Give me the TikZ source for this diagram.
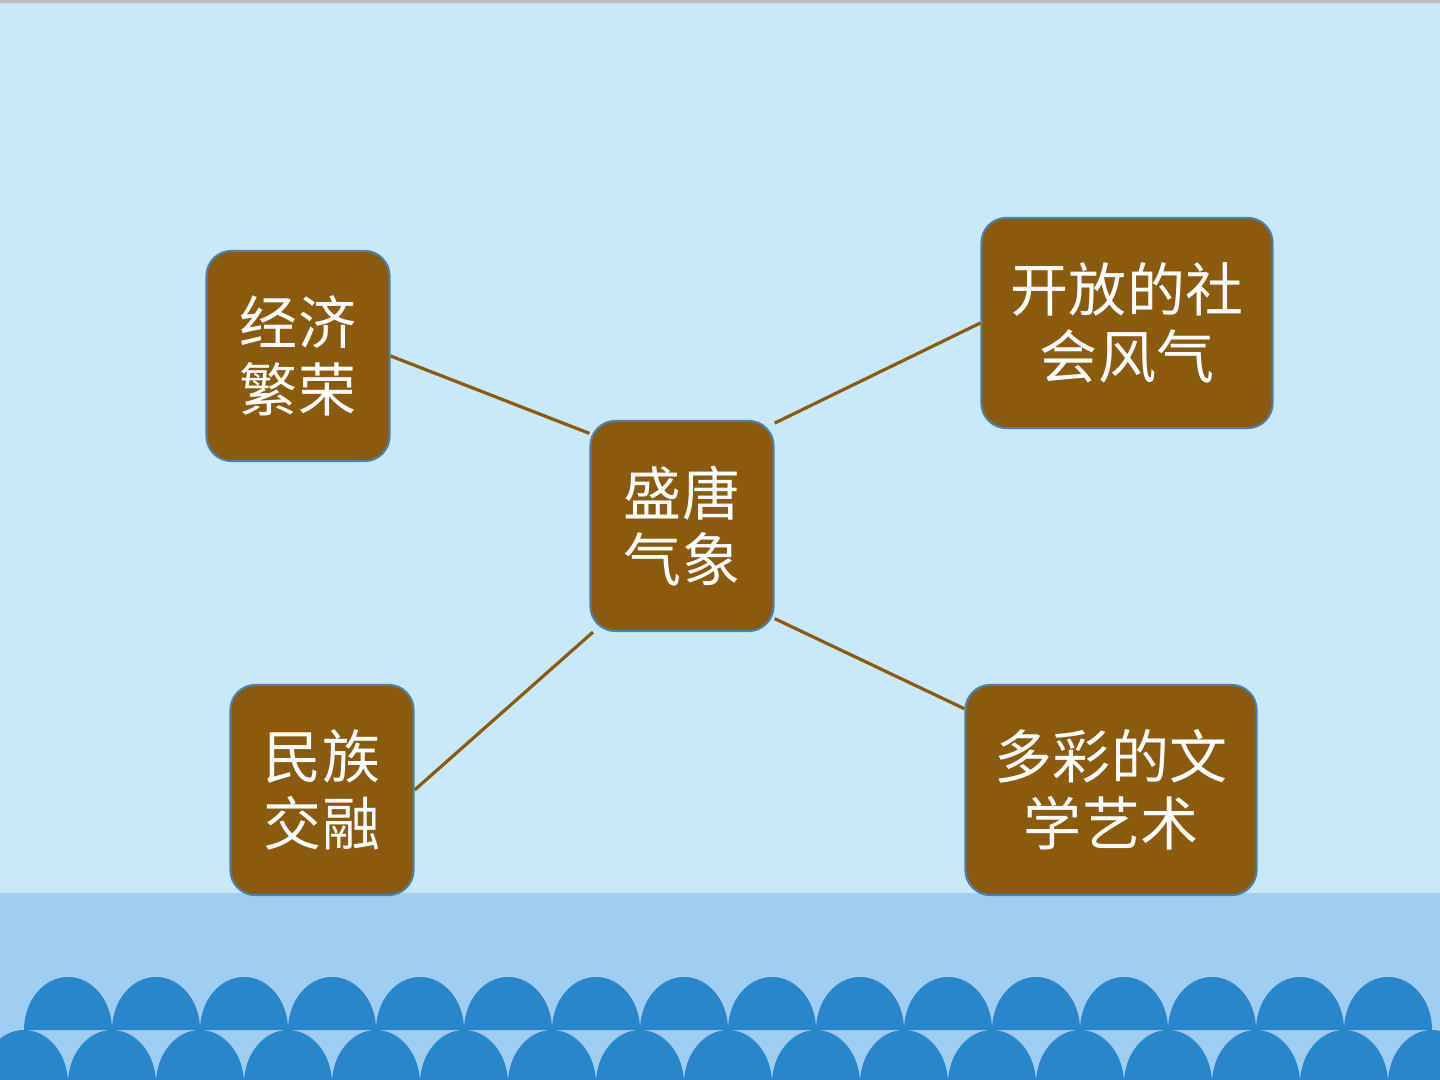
\documentclass[tikz,border=0pt]{standalone}
\usepackage{fontspec}
\newfontfamily\cjk{Noto Sans CJK SC}
\usepackage{tikz}

\definecolor{skyblue}{HTML}{C8E9FA}
\definecolor{seablue}{HTML}{A0CDF0}
\definecolor{wavecol}{HTML}{2A86CA}
\definecolor{tangbrown}{HTML}{8B5A0C}
\definecolor{boxedge}{HTML}{4F7FA6}

\begin{document}
\begin{tikzpicture}[x=0.01cm, y=-0.01cm,
	box/.style={draw=boxedge, line width=0.6pt, fill=tangbrown, rounded corners=0.25cm,
		minimum width=1.83cm, minimum height=2.1cm, inner sep=0pt, align=center,
		text=white, font=\cjk\fontsize{16.5}{19}\selectfont},
	wide/.style={box, minimum width=2.91cm},
	link/.style={draw=tangbrown, line width=0.9pt}]
	\clip (0,0) rectangle (1440,1080);
	\fill[skyblue] (0,0) rectangle (1440,1080);
	\fill[black!25] (0,0) rectangle (1440,3);
	\fill[seablue] (0,893) rectangle (1440,1080);
	\foreach \k in {0,...,15}
		\fill[wavecol] (24+88*\k,1030) arc[start angle=180, end angle=0, x radius=0.44cm, y radius=0.53cm] -- cycle;
	\foreach \k in {-1,...,16}
		\fill[wavecol] (-20+88*\k,1084) arc[start angle=180, end angle=0, x radius=0.44cm, y radius=0.54cm] -- cycle;

	\node[box] (center) at (682,526) {盛唐\\气象};
	\node[box] (jingji) at (298,356) {经济\\繁荣};
	\node[wide] (kaifang) at (1127,323) {开放的社\\会风气};
	\node[box] (minzu) at (322,790) {民族\\交融};
	\node[wide] (duocai) at (1111,790) {多彩的文\\学艺术};

	\draw[link] (jingji.east) -- (center.135);
	\draw[link] (center.48) -- (kaifang.west);
	\draw[link] (center.230) -- (minzu.east);
	\draw[link] (center.315) -- (duocai.151);
\end{tikzpicture}
\end{document}
